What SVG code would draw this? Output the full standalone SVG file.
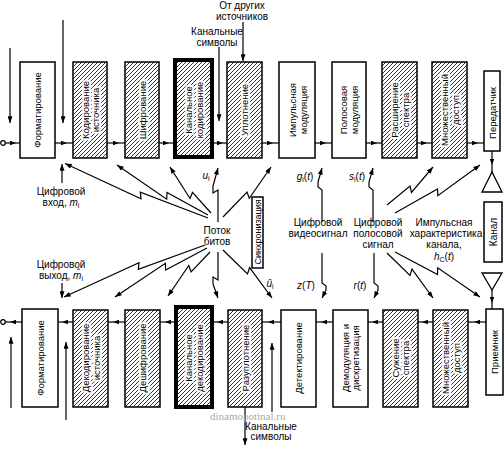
<svg xmlns="http://www.w3.org/2000/svg" width="504" height="449" viewBox="0 0 504 449">
<defs>
<pattern id="hatch" patternUnits="userSpaceOnUse" width="4" height="4">
<rect width="4" height="4" fill="#fff"/>
<path d="M-1,1 l2,-2 M0,4 l4,-4 M3,5 l2,-2" stroke="#000" stroke-width="0.8"/>
</pattern>
<marker id="a" viewBox="0 0 8 6" refX="8" refY="3" markerWidth="7" markerHeight="5" markerUnits="userSpaceOnUse" orient="auto"><path d="M0,0 L8,3 L0,6 z"/></marker>
<marker id="m" viewBox="0 0 8 6" refX="4" refY="3" markerWidth="6" markerHeight="5" markerUnits="userSpaceOnUse" orient="auto"><path d="M0,0 L8,3 L0,6 z"/></marker>
</defs>
<style>
.b{fill:#fff;stroke:#000;stroke-width:1.5}
.h{fill:url(#hatch);stroke:#000;stroke-width:1.5}
.k{stroke-width:4}
.l{fill:none;stroke:#000;stroke-width:1.2}
.e{marker-end:url(#a)}
.mm{marker-mid:url(#m)}
.t{font-family:"Liberation Sans",Arial,sans-serif;font-size:10px;fill:#000;text-anchor:middle}
.v{font-size:9.5px}
.w{stroke:#fff;stroke-width:4;paint-order:stroke;stroke-linejoin:round}
.s{font-size:7px}
.wm{font-family:"Liberation Serif",serif;font-size:11px;fill:#aaa}
</style>
<rect width="504" height="449" fill="#fff"/>

<g id="connectors">
<circle cx="3" cy="143" r="2.3" fill="#fff" stroke="#000" stroke-width="1.2"/>
<polyline class="l mm" points="5,143 13,143 20,143"/>
<polyline class="l mm" points="55,143 64,143 73,143"/>
<polyline class="l mm" points="107,143 116,143 125,143"/>
<polyline class="l mm" points="159,143 166,143 173,143"/>
<polyline class="l mm" points="214,143 220,143 227,143"/>
<polyline class="l mm" points="262,143 270,143 279,143"/>
<polyline class="l mm" points="315,143 323,143 332,143"/>
<polyline class="l mm" points="366,143 374,143 382,143"/>
<polyline class="l mm" points="417,143 424,143 432,143"/>
<polyline class="l mm" points="467,143 475,143 484,143"/>
<line class="l e" x1="10" y1="48" x2="10" y2="123"/>
<line class="l e" x1="63" y1="20" x2="63" y2="123"/>
<line class="l e" x1="219" y1="47" x2="219" y2="121"/>
<line class="l e" x1="243" y1="22" x2="243" y2="61"/>
<polyline class="l mm" points="492,151 492,162 492,172"/>
<polygon points="492,172 482,192 502,192" fill="#fff" stroke="#000" stroke-width="1.3"/>
<polygon points="482,273 502,273 492,290" fill="#fff" stroke="#000" stroke-width="1.3"/>
<polyline class="l mm" points="492,290 492,300 492,309"/>
<polyline class="l mm" points="486,322 477,322 468,322"/>
<polyline class="l mm" points="433,322 425,322 418,322"/>
<polyline class="l mm" points="383,322 375,322 368,322"/>
<polyline class="l mm" points="333,322 324,322 316,322"/>
<polyline class="l mm" points="281,322 271,322 262,322"/>
<polyline class="l mm" points="228,322 220,322 213,322"/>
<polyline class="l mm" points="176,322 168,322 160,322"/>
<polyline class="l mm" points="125,322 116,322 108,322"/>
<polyline class="l mm" points="73,322 65,322 58,322"/>
<polyline class="l mm" points="22,322 13,322 5,322"/>
<circle cx="3" cy="322" r="2.3" fill="#fff" stroke="#000" stroke-width="1.2"/>
<line class="l e" x1="11" y1="408" x2="11" y2="337"/>
<line class="l e" x1="66" y1="420" x2="66" y2="342"/>
<line class="l e" x1="245" y1="407" x2="245" y2="445"/>
<line class="l e" x1="272" y1="412" x2="272" y2="343"/>
<line class="l e" x1="62" y1="183" x2="62" y2="164"/>
<line class="l e" x1="62" y1="283" x2="62" y2="298"/>
<polyline class="l e" points="208,218 140.3,192.1 141,198.8 65,163.5"/>
<polyline class="l e" points="208,215 167,192.5 166.7,199.2 117,165"/>
<polyline class="l e" points="211,213 192.5,192.3 190,198.5 170,167"/>
<polyline class="l e" points="218,222 218,190 213,193 213,186 218,168"/>
<polyline class="l e" points="223,217 247,192 249.3,198.3 271,167"/>
<polyline class="l e" points="205,245 138.3,269.4 139,262.8 64,297"/>
<polyline class="l e" points="207,248 165.6,270 165.4,263.3 115,297"/>
<polyline class="l e" points="210,252 191.1,271.8 188.8,265.5 168,296"/>
<polyline class="l e" points="218,252 218,280 213,277 213,284 218,298"/>
<polyline class="l e" points="223,250 247.5,274 249.6,267.6 272,298"/>
<polyline class="l e" points="322,222 322,190 318,187 318,182 322,168"/>
<polyline class="l e" points="373,222 373,190 369,187 369,182 373,168"/>
<polyline class="l e" points="322,253 322,283 326,286 326,290 322,298"/>
<polyline class="l e" points="374,253 374,283 378,286 378,290 374,298"/>
<polyline class="l e" points="387,205 410,186 411.5,192.5 433,167"/>
<polyline class="l e" points="395,213 437.5,189 437.8,195.7 480,165"/>
<polyline class="l e" points="387,253 410,275.5 412,269.1 433,298"/>
<polyline class="l e" points="395,252 437.5,274.5 437.7,267.8 480,297"/>
</g>

<g id="fmt_tx"><rect class="b" x="20" y="62" width="35" height="96"/><text class="t v" transform="translate(41,110) rotate(-90)">Форматирование</text></g>
<g id="src_enc"><rect class="h" x="73" y="62" width="34" height="96"/><text class="t v w" transform="translate(88.5,110) rotate(-90)">Кодирование</text><text class="t v w" transform="translate(99,110) rotate(-90)">источника</text></g>
<g id="encrypt"><rect class="h" x="125" y="62" width="34" height="96"/><text class="t v w" transform="translate(145.5,110) rotate(-90)">Шифрование</text></g>
<g id="ch_enc"><rect class="h k" x="175" y="60" width="37" height="97"/><text class="t v w" transform="translate(191.5,110) rotate(-90)">Канальное</text><text class="t v w" transform="translate(202.5,110) rotate(-90)">кодирование</text></g>
<g id="mux"><rect class="h" x="227" y="62" width="35" height="96"/><text class="t v w" transform="translate(248,110) rotate(-90)">Уплотнение</text></g>
<g id="pulse_mod"><rect class="b" x="279" y="62" width="36" height="96"/><text class="t v" transform="translate(296,110) rotate(-90)">Импульсная</text><text class="t v" transform="translate(306.5,110) rotate(-90)">модуляция</text></g>
<g id="bp_mod"><rect class="b" x="332" y="62" width="34" height="96"/><text class="t v" transform="translate(347,110) rotate(-90)">Полосовая</text><text class="t v" transform="translate(357.5,110) rotate(-90)">модуляция</text></g>
<g id="spread"><rect class="h" x="382" y="62" width="35" height="96"/><text class="t v w" transform="translate(397.5,110) rotate(-90)">Расширение</text><text class="t v w" transform="translate(408.5,110) rotate(-90)">спектра</text></g>
<g id="ma_tx"><rect class="h" x="432" y="62" width="35" height="96"/><text class="t v w" transform="translate(447.5,110) rotate(-90)">Множественный</text><text class="t v w" transform="translate(458.5,110) rotate(-90)">доступ</text></g>
<g id="transmitter"><rect class="b" x="484" y="71" width="16" height="80"/><text class="t v" transform="translate(495.5,113) rotate(-90)">Передатчик</text></g>

<g id="channel"><rect class="b" x="484" y="202" width="18" height="60"/><text class="t" transform="translate(496.5,232) rotate(-90)">Канал</text></g>
<g id="sync"><rect class="b" x="252" y="197" width="11" height="71"/><text class="t" style="font-size:9px" transform="translate(260.8,232) rotate(-90)">Синхронизация</text></g>

<g id="fmt_rx"><rect class="b" x="22" y="309" width="36" height="98"/><text class="t v" transform="translate(43.5,358) rotate(-90)">Форматирование</text></g>
<g id="src_dec"><rect class="h" x="73" y="310" width="35" height="97"/><text class="t v w" transform="translate(88.5,358) rotate(-90)">Декодирование</text><text class="t v w" transform="translate(99.5,358) rotate(-90)">источника</text></g>
<g id="decrypt"><rect class="h" x="125" y="310" width="35" height="97"/><text class="t v w" transform="translate(145.5,358) rotate(-90)">Дешифрование</text></g>
<g id="ch_dec"><rect class="h k" x="176" y="307" width="36" height="100"/><text class="t v w" transform="translate(191.5,358) rotate(-90)">Канальное</text><text class="t v w" transform="translate(202.5,358) rotate(-90)">декодирование</text></g>
<g id="demux"><rect class="h" x="228" y="310" width="34" height="97"/><text class="t v w" transform="translate(248.5,358) rotate(-90)">Разуплотнение</text></g>
<g id="detect"><rect class="b" x="281" y="310" width="35" height="97"/><text class="t v" transform="translate(302,358) rotate(-90)">Детектирование</text></g>
<g id="demod"><rect class="b" x="333" y="310" width="35" height="97"/><text class="t v" transform="translate(348.5,358) rotate(-90)">Демодуляция и</text><text class="t v" transform="translate(359,358) rotate(-90)">дискретизация</text></g>
<g id="despread"><rect class="h" x="383" y="310" width="35" height="97"/><text class="t v w" transform="translate(398.5,358) rotate(-90)">Сужение</text><text class="t v w" transform="translate(409,358) rotate(-90)">спектра</text></g>
<g id="ma_rx"><rect class="h" x="433" y="310" width="35" height="97"/><text class="t v w" transform="translate(448.5,358) rotate(-90)">Множественный</text><text class="t v w" transform="translate(459.5,358) rotate(-90)">доступ</text></g>
<g id="receiver"><rect class="b" x="486" y="309" width="17" height="86"/><text class="t v" transform="translate(498,352) rotate(-90)">Приемник</text></g>

<g id="labels">
<text class="t" x="242" y="9">От других</text>
<text class="t" x="242" y="20">источников</text>
<text class="t" x="217" y="35">Канальные</text>
<text class="t" x="217" y="46">символы</text>
<text class="t" x="61" y="195">Цифровой</text>
<text class="t" x="61" y="206">вход, <tspan font-style="italic">m</tspan><tspan class="s" dy="2">i</tspan></text>
<text class="t" x="61" y="268">Цифровой</text>
<text class="t" x="61" y="279">выход, <tspan font-style="italic">m̂</tspan><tspan class="s" dy="2">i</tspan></text>
<text class="t" x="217" y="234">Поток</text>
<text class="t" x="217" y="245">битов</text>
<text class="t" x="206" y="179"><tspan font-style="italic">u</tspan><tspan class="s" dy="2">i</tspan></text>
<text class="t" x="270" y="287"><tspan font-style="italic">û</tspan><tspan class="s" dy="2">i</tspan></text>
<text class="t" x="305" y="180"><tspan font-style="italic">g</tspan><tspan class="s" dy="2">i</tspan><tspan dy="-2">(<tspan font-style="italic">t</tspan>)</tspan></text>
<text class="t" x="357" y="180"><tspan font-style="italic">s</tspan><tspan class="s" dy="2">i</tspan><tspan dy="-2">(<tspan font-style="italic">t</tspan>)</tspan></text>
<text class="t" x="306" y="289"><tspan font-style="italic">z</tspan>(<tspan font-style="italic">T</tspan>)</text>
<text class="t" x="360" y="289"><tspan font-style="italic">r</tspan>(<tspan font-style="italic">t</tspan>)</text>
<text class="t" x="318" y="226">Цифровой</text>
<text class="t" x="318" y="237">видеосигнал</text>
<text class="t" x="378" y="226">Цифровой</text>
<text class="t" x="378" y="237">полосовой</text>
<text class="t" x="378" y="248">сигнал</text>
<text class="t" x="444" y="226">Импульсная</text>
<text class="t" x="446" y="237">характеристика</text>
<text class="t" x="444" y="248">канала,</text>
<text class="t" x="444" y="260"><tspan font-style="italic">h</tspan><tspan class="s" dy="2">C</tspan><tspan dy="-2">(<tspan font-style="italic">t</tspan>)</tspan></text>
<text class="t" x="271" y="430">Канальные</text>
<text class="t" x="271" y="440">символы</text>
<text class="wm" x="210" y="420">dinamopotinal.ru</text>
</g>
</svg>
